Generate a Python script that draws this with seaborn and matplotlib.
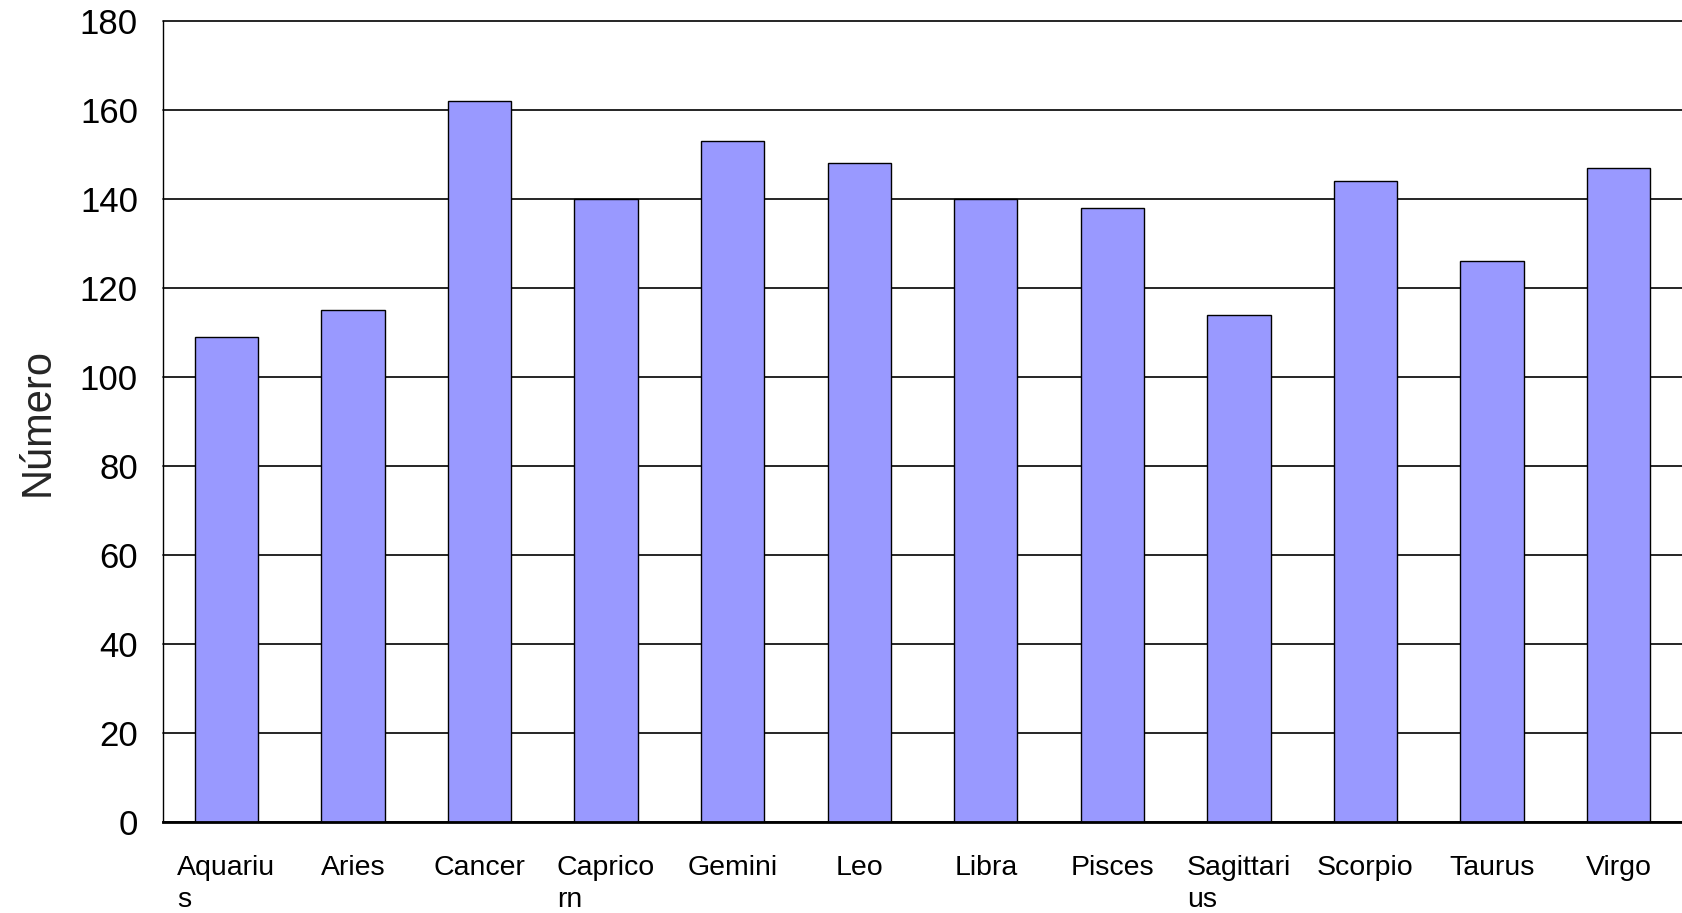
import pandas as pd
import matplotlib
matplotlib.use("Agg")
import matplotlib.pyplot as plt
import seaborn as sns

signs = ['Aquarius', 'Aries', 'Cancer', 'Capricorn', 'Gemini', 'Leo',
         'Libra', 'Pisces', 'Sagittarius', 'Scorpio', 'Taurus', 'Virgo']
# labels are wrapped the way the original chart broke them
tick_labels = ['Aquariu\ns', 'Aries', 'Cancer', 'Caprico\nrn', 'Gemini', 'Leo',
               'Libra', 'Pisces', 'Sagittari\nus', 'Scorpio', 'Taurus', 'Virgo']
counts = [109, 115, 162, 140, 153, 148, 140, 138, 114, 144, 126, 147]

df = pd.DataFrame({'Signo': signs, 'Numero': counts})

sns.set_style('white')
plt.rcParams['font.family'] = ['Liberation Sans', 'DejaVu Sans']

fig = plt.figure(figsize=(16.82, 9.13), dpi=100)
ax = fig.add_axes([163 / 1682, 1 - 822 / 913, 1 - 163 / 1682, (822 - 21) / 913])

sns.barplot(data=df, x='Signo', y='Numero', order=signs, color='#9999ff',
            saturation=1, width=0.5, edgecolor='black', linewidth=1, ax=ax)

ax.set_ylim(0, 180)
ax.set_xlim(-0.5, len(signs) - 0.5)
ax.set_yticks(range(0, 181, 20))
ax.yaxis.grid(True, color='black', linewidth=1.2)
ax.set_axisbelow(True)

ax.set_xticks(range(len(signs)))
ax.set_xticklabels(tick_labels, multialignment='left', linespacing=1.3)
ax.set_xticks([i - 0.5 for i in range(len(signs) + 1)], minor=True)
ax.tick_params(axis='x', which='major', length=0, pad=24, labelsize=20.5)
ax.tick_params(axis='x', which='minor', length=11.5, width=1, color='black', direction='out')
ax.tick_params(axis='y', length=10, width=1, color='black', direction='out', pad=8, labelsize=25)
ax.tick_params(axis='both', labelcolor='black')

# keep the 180 gridline from being cut in half at the top edge
for line in ax.get_ygridlines():
    line.set_clip_on(False)

ax.set_xlabel('')
ax.set_ylabel('Número', fontsize=30, labelpad=16)

for side in ['top', 'right']:
    ax.spines[side].set_visible(False)
ax.spines['left'].set_color('black')
ax.spines['left'].set_linewidth(1)
ax.spines['bottom'].set_color('black')
ax.spines['bottom'].set_linewidth(2)

fig.savefig('out.png', dpi=100)
